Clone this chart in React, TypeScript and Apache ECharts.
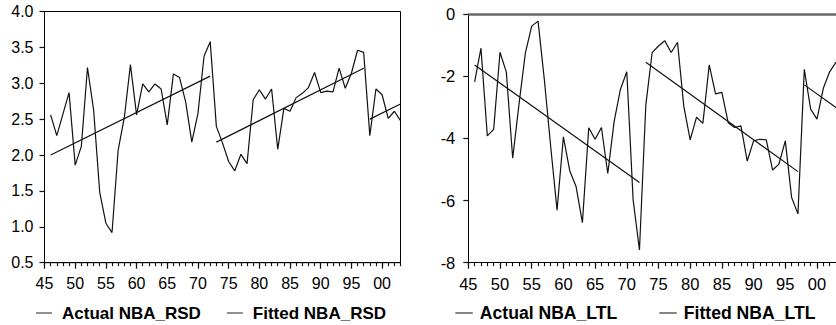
import React, { useEffect, useRef } from "react";
import * as echarts from "echarts";

// ---------- data ----------
const years: number[] = [
  1946, 1947, 1948, 1949, 1950, 1951, 1952, 1953, 1954, 1955, 1956, 1957, 1958, 1959,
  1960, 1961, 1962, 1963, 1964, 1965, 1966, 1967, 1968, 1969, 1970, 1971, 1972, 1973,
  1974, 1975, 1976, 1977, 1978, 1979, 1980, 1981, 1982, 1983, 1984, 1985, 1986, 1987,
  1988, 1989, 1990, 1991, 1992, 1993, 1994, 1995, 1996, 1997, 1998, 1999, 2000, 2001,
  2002, 2003,
];

const actualRSD: number[] = [
  2.56, 2.27, 2.57, 2.87, 1.86, 2.12, 3.22, 2.63, 1.48, 1.05, 0.92, 2.07, 2.52, 3.26,
  2.56, 2.99, 2.88, 2.99, 2.92, 2.42, 3.13, 3.08, 2.74, 2.18, 2.58, 3.38, 3.58, 2.4,
  2.17, 1.91, 1.78, 2.01, 1.88, 2.77, 2.91, 2.78, 2.92, 2.08, 2.65, 2.61, 2.8, 2.86,
  2.94, 3.15, 2.87, 2.89, 2.88, 3.21, 2.93, 3.14, 3.46, 3.43, 2.27, 2.92, 2.84, 2.51,
  2.61, 2.48,
];

const actualLTL: number[] = [
  -2.18, -1.1, -3.92, -3.71, -1.23, -1.87, -4.64, -2.9, -1.26, -0.39, -0.23, -2.12, -4.27, -6.31,
  -3.95, -5.04, -5.55, -6.71, -3.66, -4.03, -3.65, -5.13, -3.46, -2.42, -1.86, -5.98, -7.59, -2.93,
  -1.24, -1.03, -0.86, -1.24, -0.91, -2.98, -4.05, -3.32, -3.52, -1.64, -2.57, -2.52, -3.5, -3.65,
  -3.6, -4.73, -4.08, -4.03, -4.05, -5.02, -4.83, -4.08, -5.9, -6.43, -1.78, -3.06, -3.38, -2.39,
  -1.86, -1.55,
];

// fitted trend: segment end points [year, value]
const fittedRSDSegments: [number, number][][] = [
  [[1946, 2.0], [1972, 3.1]],
  [[1973, 2.18], [1997, 3.21]],
  [[1998, 2.5], [2003, 2.71]],
];
const fittedLTLSegments: [number, number][][] = [
  [[1946, -1.64], [1972, -5.42]],
  [[1973, -1.55], [1997, -5.07]],
  [[1998, -2.28], [2003, -3.01]],
];

const majorYears: number[] = [1945, 1950, 1955, 1960, 1965, 1970, 1975, 1980, 1985, 1990, 1995, 2000];
const xMin = 1945;
const xMax = 2003;

const namesLeft = ["Actual NBA_RSD", "Fitted NBA_RSD"];
const namesRight = ["Actual NBA_LTL", "Fitted NBA_LTL"];

// ---------- helpers ----------
const FONT = "'Liberation Sans', Arial, Helvetica, sans-serif";
const LINE = "#111";
const TICK = "#111";

const pairs = (xs: number[], ys: number[]) => xs.map((x, i) => [x, ys[i]]);
const joinSegments = (segs: [number, number][][]) => {
  const out: any[] = [];
  segs.forEach((s, i) => {
    if (i > 0) out.push(null);
    s.forEach((p) => out.push(p));
  });
  return out;
};

const yearLabel = (v: number) => {
  if (majorYears.indexOf(Math.round(v)) < 0) return "";
  return String(Math.round(v) % 100).padStart(2, "0");
};

function mainX(gridIndex: number, fontSize: number) {
  return {
    type: "value",
    gridIndex,
    min: xMin,
    max: xMax,
    interval: 5,
    axisLine: { show: true, onZero: false, lineStyle: { color: "#000", width: 1 } },
    axisTick: { show: true, length: 6, lineStyle: { color: TICK, width: 1.2 } },
    axisLabel: {
      show: true,
      showMaxLabel: false,
      margin: 13,
      color: "#000",
      fontFamily: FONT,
      fontSize,
      formatter: yearLabel,
    },
    splitLine: { show: false },
  };
}

function minorX(gridIndex: number) {
  return {
    type: "value",
    gridIndex,
    position: "bottom",
    min: xMin,
    max: xMax,
    interval: 1,
    axisLine: { show: false, onZero: false },
    axisTick: { show: true, length: 3.5, lineStyle: { color: TICK, width: 1.1 } },
    axisLabel: { show: false },
    splitLine: { show: false },
  };
}

export default function App() {
  const ref = useRef<HTMLDivElement>(null);

  useEffect(() => {
    if (!ref.current) return;
    const chart = echarts.init(ref.current, undefined, { renderer: "svg" });

    const option: any = {
      animation: false,
      textStyle: { fontFamily: FONT },
      grid: [
        {
          left: 44.5,
          top: 11.5,
          width: 356,
          height: 251.2,
          show: true,
          borderColor: "#000",
          borderWidth: 1,
        },
        {
          left: 468.3,
          top: 14,
          width: 372.2,
          height: 248.7,
          show: false,
        },
      ],
      xAxis: [mainX(0, 16), minorX(0), mainX(1, 16.5), minorX(1)],
      yAxis: [
        {
          type: "value",
          gridIndex: 0,
          min: 0.5,
          max: 4.0,
          interval: 0.5,
          axisLine: { show: true, onZero: false, lineStyle: { color: "#000" } },
          axisTick: { show: true, length: 5, lineStyle: { color: TICK, width: 1.2 } },
          axisLabel: {
            margin: 11,
            color: "#000",
            fontFamily: FONT,
            fontSize: 16,
            formatter: (v: number) => v.toFixed(1),
          },
          splitLine: { show: false },
        },
        {
          type: "value",
          gridIndex: 1,
          min: -8,
          max: 0,
          interval: 2,
          axisLine: { show: true, onZero: false, lineStyle: { color: "#000" } },
          axisTick: { show: true, length: 5, lineStyle: { color: TICK, width: 1.2 } },
          axisLabel: {
            margin: 13,
            color: "#000",
            fontFamily: FONT,
            fontSize: 16.5,
            formatter: (v: number) => String(v),
          },
          splitLine: { show: false },
        },
      ],
      legend: [
        {
          data: namesLeft,
          left: 31,
          top: 299,
          orient: "horizontal",
          itemWidth: 16,
          itemHeight: 10,
          itemGap: 26,
          icon: "path://M0,0 L16,0 L16,1 L0,1 Z",
          itemStyle: { color: "#222" },
          textStyle: {
            fontFamily: FONT,
            fontWeight: "bold",
            fontSize: 17,
            color: "#000",
            lineHeight: 18,
            padding: [0, 0, 0, 5],
          },
          selectedMode: false,
        },
        {
          data: namesRight,
          left: 450.3,
          top: 299,
          orient: "horizontal",
          itemWidth: 17.5,
          itemHeight: 10,
          itemGap: 42,
          icon: "path://M0,0 L16,0 L16,1 L0,1 Z",
          itemStyle: { color: "#222" },
          textStyle: {
            fontFamily: FONT,
            fontWeight: "bold",
            fontSize: 17.6,
            color: "#000",
            lineHeight: 18,
            padding: [0, 0, 0, 2],
          },
          selectedMode: false,
        },
      ],
      series: [
        {
          name: namesLeft[0],
          type: "line",
          xAxisIndex: 0,
          yAxisIndex: 0,
          data: pairs(years, actualRSD),
          symbol: "none",
          lineStyle: { color: LINE, width: 1.2 },
          itemStyle: { color: LINE },
        },
        {
          name: namesLeft[1],
          type: "line",
          xAxisIndex: 0,
          yAxisIndex: 0,
          data: joinSegments(fittedRSDSegments),
          connectNulls: false,
          symbol: "none",
          lineStyle: { color: LINE, width: 1.2 },
          itemStyle: { color: LINE },
        },
        {
          name: namesRight[0],
          type: "line",
          xAxisIndex: 2,
          yAxisIndex: 1,
          data: pairs(years, actualLTL),
          symbol: "none",
          lineStyle: { color: LINE, width: 1.2 },
          itemStyle: { color: LINE },
          markLine: {
            silent: true,
            symbol: "none",
            label: { show: false },
            lineStyle: { color: "#6a6a6a", width: 2.5, type: "solid" },
            data: [{ yAxis: 0 }],
          },
        },
        {
          name: namesRight[1],
          type: "line",
          xAxisIndex: 2,
          yAxisIndex: 1,
          data: joinSegments(fittedLTLSegments),
          connectNulls: false,
          symbol: "none",
          lineStyle: { color: LINE, width: 1.2 },
          itemStyle: { color: LINE },
        },
      ],
    };

    chart.setOption(option);
    return () => chart.dispose();
  }, []);

  return (
    <div
      ref={ref}
      style={{ position: "absolute", left: 0, top: 0, width: 836, height: 325, background: "#fff" }}
    />
  );
}
